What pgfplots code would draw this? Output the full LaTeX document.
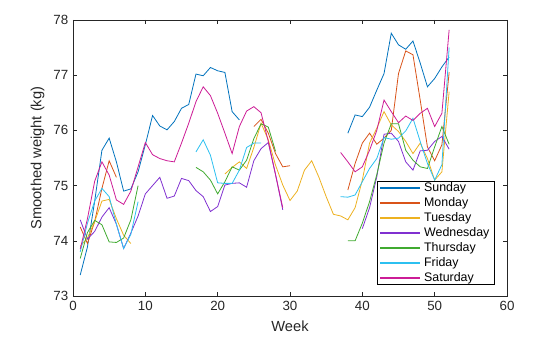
\documentclass[border=0pt]{standalone}
\usepackage{fontspec}
\setmainfont{Liberation Sans}
\usepackage{pgfplots}
\usepackage{pgfplotstable}
\pgfplotsset{compat=1.18}
\definecolor{csun}{HTML}{0072BD}
\definecolor{cmon}{HTML}{D95319}
\definecolor{ctue}{HTML}{EDB120}
\definecolor{cwed}{HTML}{8030D0}
\definecolor{cthu}{HTML}{40AA30}
\definecolor{cfri}{HTML}{2CC0F0}
\definecolor{csat}{HTML}{CC1C96}
\definecolor{axgray}{HTML}{262626}

\pgfplotstableread{
w v
1 73.38
2 73.89
3 74.72
4 75.64
5 75.86
6 75.43
7 74.90
8 74.94
9 75.25
10 75.74
11 76.27
12 76.08
13 76.01
14 76.16
15 76.40
16 76.47
17 77.02
18 76.99
19 77.14
20 77.08
21 77.05
22 76.34
23 76.19
24 nan
38 75.95
39 76.28
40 76.25
41 76.42
42 76.73
43 77.03
44 77.76
45 77.55
46 77.47
47 77.62
48 77.22
49 76.79
50 76.94
51 77.15
52 77.33
}\sunday

\pgfplotstableread{
w v
1 74.25
2 73.95
3 74.35
4 74.95
5 75.45
6 75.15
7 nan
25 76.07
26 76.20
27 75.95
28 75.58
29 75.34
30 75.36
31 nan
38 74.92
39 75.40
40 75.77
41 75.95
42 75.75
43 75.86
44 76.00
45 77.03
46 77.44
47 77.37
48 76.55
49 75.70
50 75.45
51 75.74
52 77.05
}\monday

\pgfplotstableread{
w v
1 73.90
2 74.05
3 74.35
4 74.72
5 74.75
6 74.40
7 74.10
8 73.95
9 nan
21 75.21
22 75.33
23 75.43
24 75.31
25 75.69
26 76.13
27 75.83
28 75.37
29 75.01
30 74.73
31 74.90
32 75.28
33 75.45
34 75.15
35 74.80
36 74.48
37 74.45
38 74.38
39 74.60
40 75.10
41 75.77
42 76.04
43 76.34
44 76.10
45 75.98
46 75.80
47 75.58
48 75.77
49 75.49
50 75.10
51 75.25
52 76.70
}\tuesday

\pgfplotstableread{
w v
1 74.38
2 74.03
3 74.17
4 74.43
5 74.60
6 74.30
7 73.86
8 74.14
9 74.45
10 74.85
11 75.00
12 75.15
13 74.77
14 74.81
15 75.13
16 75.09
17 74.91
18 74.80
19 74.53
20 74.62
21 75.01
22 75.04
23 75.05
24 74.97
25 75.45
26 75.67
27 75.78
28 75.20
29 74.56
30 nan
40 74.22
41 74.60
42 75.16
43 75.93
44 75.95
45 75.80
46 75.43
47 75.28
48 75.63
49 75.64
50 75.80
51 75.89
52 75.66
}\wednesday

\pgfplotstableread{
w v
1 73.68
2 74.15
3 74.37
4 74.29
5 73.98
6 73.97
7 74.05
8 74.38
9 75.00
10 nan
17 75.33
18 75.25
19 75.10
20 74.85
21 75.07
22 75.34
23 75.28
24 75.46
25 75.85
26 76.12
27 76.06
28 75.62
29 nan
38 74.00
39 74.00
40 74.32
41 74.71
42 75.20
43 75.77
44 76.12
45 76.12
46 75.64
47 75.46
48 75.34
49 75.31
50 75.70
51 76.07
52 75.75
}\thursday

\pgfplotstableread{
w v
1 73.80
2 74.32
3 74.72
4 74.95
5 74.80
6 74.30
7 73.86
8 74.12
9 74.71
10 nan
17 75.61
18 75.83
19 75.55
20 75.05
21 75.04
22 75.04
23 75.28
24 75.69
25 75.77
26 75.77
27 nan
37 74.80
38 74.79
39 74.83
40 75.07
41 75.31
42 75.49
43 75.87
44 75.84
45 75.86
46 75.99
47 76.22
48 75.80
49 75.40
50 75.10
51 75.38
52 77.50
}\friday

\pgfplotstableread{
w v
1 73.85
2 74.40
3 75.08
4 75.43
5 75.19
6 74.74
7 74.66
8 74.90
9 75.34
10 75.78
11 75.56
12 75.49
13 75.45
14 75.43
15 75.77
16 76.13
17 76.52
18 76.79
19 76.63
20 76.31
21 75.95
22 75.58
23 76.07
24 76.35
25 76.43
26 76.32
27 75.80
28 75.20
29 74.60
30 nan
37 75.60
38 75.43
39 75.25
40 75.34
41 75.64
42 76.00
43 76.55
44 76.34
45 76.14
46 76.26
47 76.18
48 76.31
49 76.40
50 76.07
51 76.31
52 77.82
}\saturday

\begin{document}
\begin{tikzpicture}
\begin{axis}[
  scale only axis, width=325.5pt, height=207pt,
  xmin=0, xmax=60, ymin=73, ymax=78,
  xtick={0,10,...,60}, ytick={73,74,...,78},
  tick align=inside, major tick length=3.25pt,
  axis line style={color=axgray, line width=0.4pt},
  tick style={color=axgray, line width=0.4pt},
  ticklabel style={font=\fontsize{10}{12}\selectfont, color=axgray},
  xlabel={Week}, ylabel={Smoothed weight (kg)},
  label style={font=\fontsize{11}{13}\selectfont, color=axgray},
  xlabel style={yshift=-1.5pt},
  /pgf/number format/assume math mode=true,
  unbounded coords=jump,
  every axis plot/.append style={line width=0.6pt},
  legend cell align=left,
  legend image code/.code={\draw[#1, line width=1.5pt] (0pt,0pt) -- (30pt,0pt);},
  legend style={at={(1,0)}, anchor=south east, xshift=-9pt, yshift=8.25pt,
    fill=white, draw=black,
    font=\fontsize{9.3}{10}\selectfont,
    inner xsep=2pt, inner ysep=0.6pt, row sep=2.25pt,
    nodes={inner ysep=0pt, inner xsep=2pt, text height=7pt, text depth=2pt}},
]
\addplot[color=csun] table[x=w,y=v] {\sunday};
\addlegendentry{Sunday}
\addplot[color=cmon] table[x=w,y=v] {\monday};
\addlegendentry{Monday}
\addplot[color=ctue] table[x=w,y=v] {\tuesday};
\addlegendentry{Tuesday}
\addplot[color=cwed] table[x=w,y=v] {\wednesday};
\addlegendentry{Wednesday}
\addplot[color=cthu] table[x=w,y=v] {\thursday};
\addlegendentry{Thursday}
\addplot[color=cfri] table[x=w,y=v] {\friday};
\addlegendentry{Friday}
\addplot[color=csat] table[x=w,y=v] {\saturday};
\addlegendentry{Saturday}
\end{axis}
\pgfresetboundingbox
\path ([shift={(-54.75pt,-30.75pt)}]current axis.south west) rectangle ([shift={(39.75pt,15pt)}]current axis.north east);
\end{tikzpicture}
\end{document}
